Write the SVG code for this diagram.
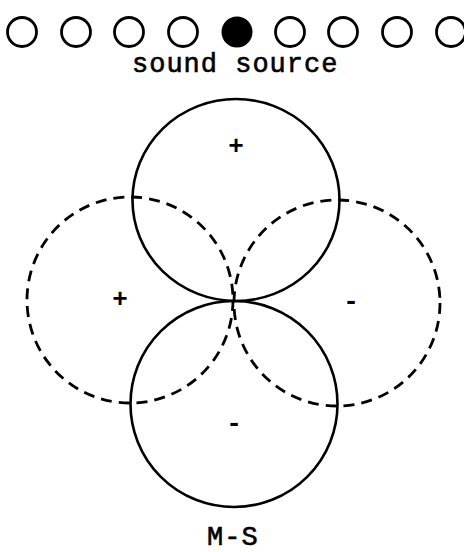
<svg xmlns="http://www.w3.org/2000/svg" width="464" height="552" viewBox="0 0 464 552">
<style>
.src{fill:none;stroke:#000;stroke-width:2.8}
.solid{fill:none;stroke:#000;stroke-width:2.6}
.dash{fill:none;stroke:#000;stroke-width:2.8;stroke-dasharray:11 7}
.lbl{font-family:"Liberation Mono",monospace;font-size:27px;letter-spacing:1px;fill:#000;stroke:#000;stroke-width:0.6}
.sign{font-family:"Liberation Mono",monospace;font-size:26px;font-weight:bold;fill:#000;text-anchor:middle;dominant-baseline:central}
</style>
<rect width="464" height="552" fill="#fff"/>
<g id="sources">
<circle class="src" cx="22" cy="32" r="14.5"/>
<circle class="src" cx="76" cy="32" r="14.5"/>
<circle class="src" cx="129" cy="32" r="14.5"/>
<circle class="src" cx="183" cy="32" r="14.5"/>
<circle cx="237" cy="32" r="15.5" fill="#000"/>
<circle class="src" cx="290" cy="32" r="14.5"/>
<circle class="src" cx="343" cy="32" r="14.5"/>
<circle class="src" cx="397" cy="32" r="14.5"/>
<circle class="src" cx="451" cy="32" r="14.5"/>
<text class="lbl" x="132" y="72">sound source</text>
</g>
<g id="m-top">
<ellipse class="solid" cx="236" cy="200" rx="103.5" ry="101"/>
<text class="sign" x="236" y="147">+</text>
</g>
<g id="m-bottom">
<ellipse class="solid" cx="234" cy="404" rx="103.5" ry="103"/>
<text class="sign" x="234" y="424">-</text>
</g>
<g id="s-left">
<ellipse class="dash" cx="130" cy="300" rx="103" ry="103"/>
<text class="sign" x="120" y="300">+</text>
</g>
<g id="s-right">
<ellipse class="dash" cx="337" cy="303" rx="103" ry="103"/>
<text class="sign" x="351" y="302">-</text>
</g>
<g id="connectors"></g>
<g id="caption">
<text class="lbl" x="207" y="545">M-S</text>
</g>
</svg>
